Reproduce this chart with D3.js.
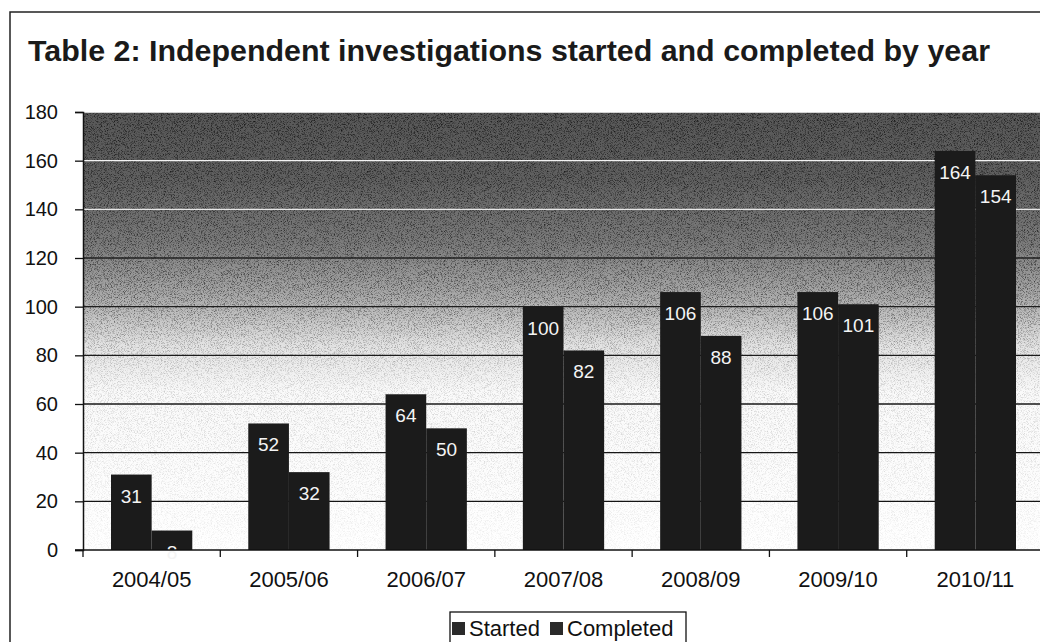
<!DOCTYPE html>
<html>
<head>
<meta charset="utf-8">
<script src="https://d3js.org/d3.v7.min.js"></script>
<style>
  body { margin: 0; background: #fff; }
  text { font-family: "Liberation Sans", Arial, sans-serif; }
</style>
</head>
<body>
<div id="chart"></div>
<script>
// data
var years = ["2004/05", "2005/06", "2006/07", "2007/08", "2008/09", "2009/10", "2010/11"]
var started = [31, 52, 64, 100, 106, 106, 164]
var completed = [8, 32, 50, 82, 88, 101, 154]
var yTicks = [0, 20, 40, 60, 80, 100, 120, 140, 160, 180]
var seriesNames = ["Started", "Completed"]

var width = 1040, height = 642
var plot = {left: 83, right: 1044, top: 112, bottom: 550}

var svg = d3.select("#chart").append("svg")
  .attr("width", width)
  .attr("height", height)

var defs = svg.append("defs")

// background of plot area: dark at top fading to white
var bg = defs.append("linearGradient")
  .attr("id", "bgGrad")
  .attr("gradientUnits", "userSpaceOnUse")
  .attr("x1", 0).attr("y1", plot.top).attr("x2", 0).attr("y2", plot.bottom)
bg.append("stop").attr("offset", "0%").attr("stop-color", "#585858")
bg.append("stop").attr("offset", "15%").attr("stop-color", "#606060")
bg.append("stop").attr("offset", "30%").attr("stop-color", "#7c7c7c")
bg.append("stop").attr("offset", "42%").attr("stop-color", "#aaaaaa")
bg.append("stop").attr("offset", "53%").attr("stop-color", "#e2e2e2")
bg.append("stop").attr("offset", "64%").attr("stop-color", "#fafafa")
bg.append("stop").attr("offset", "100%").attr("stop-color", "#ffffff")

// how strong the scan grain is: heavy on top, sparse at the bottom
var gr = defs.append("linearGradient")
  .attr("id", "grainGrad")
  .attr("gradientUnits", "userSpaceOnUse")
  .attr("x1", 0).attr("y1", plot.top).attr("x2", 0).attr("y2", plot.bottom)
gr.append("stop").attr("offset", "0%").attr("stop-color", "#000").attr("stop-opacity", 0.75)
gr.append("stop").attr("offset", "40%").attr("stop-color", "#000").attr("stop-opacity", 0.6)
gr.append("stop").attr("offset", "60%").attr("stop-color", "#000").attr("stop-opacity", 0.2)
gr.append("stop").attr("offset", "100%").attr("stop-color", "#000").attr("stop-opacity", 0.06)

// gridlines look white on the dark part, black on the light part
var gg = defs.append("linearGradient")
  .attr("id", "gridGrad")
  .attr("gradientUnits", "userSpaceOnUse")
  .attr("x1", 0).attr("y1", plot.top).attr("x2", 0).attr("y2", plot.bottom)
gg.append("stop").attr("offset", "0%").attr("stop-color", "#ffffff")
gg.append("stop").attr("offset", "28%").attr("stop-color", "#e0e0e0")
gg.append("stop").attr("offset", "33%").attr("stop-color", "#202020")
gg.append("stop").attr("offset", "100%").attr("stop-color", "#111111")

var f = defs.append("filter").attr("id", "grain").attr("x", 0).attr("y", 0).attr("width", "100%").attr("height", "100%")
f.append("feTurbulence").attr("type", "fractalNoise").attr("baseFrequency", 1.3).attr("numOctaves", 1).attr("seed", 3).attr("result", "n")
f.append("feColorMatrix").attr("in", "n").attr("type", "matrix")
  .attr("values", "0 0 0 0 0  0 0 0 0 0  0 0 0 0 0  0 0 0 -3 1.6")
  .attr("result", "a")
f.append("feComposite").attr("in", "a").attr("in2", "SourceGraphic").attr("operator", "in")

// outer frame
svg.append("rect")
  .attr("x", 10).attr("y", 12)
  .attr("width", 1040).attr("height", 700)
  .attr("fill", "none").attr("stroke", "#222").attr("stroke-width", 1.5)

svg.append("text")
  .attr("x", 28).attr("y", 61)
  .attr("font-size", 29)
  .attr("font-weight", "bold")
  .attr("fill", "#1a1a1a")
  .attr("textLength", 962)
  .attr("lengthAdjust", "spacingAndGlyphs")
  .text("Table 2: Independent investigations started and completed by year")

var x = d3.scaleBand()
  .domain(years)
  .range([plot.left, plot.right])
  .paddingInner(0)

var inner = d3.scaleBand()
  .domain(seriesNames)
  .range([28, x.bandwidth() - 28])

var y = d3.scaleLinear()
  .domain([0, 180])
  .range([plot.bottom, plot.top])

svg.append("rect")
  .attr("x", plot.left).attr("y", plot.top)
  .attr("width", plot.right - plot.left).attr("height", plot.bottom - plot.top)
  .attr("fill", "url(#bgGrad)")

svg.append("rect")
  .attr("x", plot.left).attr("y", plot.top)
  .attr("width", plot.right - plot.left).attr("height", plot.bottom - plot.top)
  .attr("fill", "url(#grainGrad)")
  .attr("filter", "url(#grain)")

svg.append("g")
  .selectAll("line")
  .data(yTicks.filter(function(d) { return d > 0 }))
  .join("line")
  .attr("x1", plot.left).attr("x2", plot.right)
  .attr("y1", function(d) { return y(d) }).attr("y2", function(d) { return y(d) })
  .attr("stroke", "url(#gridGrad)")
  .attr("stroke-width", 1.3)

// bars
var rows = years.map(function(yr, i) {
  return [{year: yr, key: "Started", value: started[i]}, {year: yr, key: "Completed", value: completed[i]}]
})

var groups = svg.append("g").selectAll("g")
  .data(rows)
  .join("g")
  .attr("transform", function(d) { return "translate(" + x(d[0].year) + ",0)" })

groups.selectAll("rect")
  .data(function(d) { return d })
  .join("rect")
  .attr("x", function(d) { return inner(d.key) })
  .attr("y", function(d) { return y(d.value) })
  .attr("width", inner.bandwidth())
  .attr("height", function(d) { return y(0) - y(d.value) })
  .attr("fill", "#1b1b1b")

groups.selectAll("text")
  .data(function(d) { return d })
  .join("text")
  .attr("x", function(d) { return inner(d.key) + inner.bandwidth() / 2 })
  .attr("y", function(d) { return y(d.value) + 28 })
  .attr("text-anchor", "middle")
  .attr("font-size", 19)
  .attr("fill", "#f4f4f4")
  .text(function(d) { return d.value })

// axes
var yAxis = svg.append("g")
  .attr("transform", "translate(" + plot.left + ",0)")
  .call(d3.axisLeft(y).tickValues(yTicks).tickSize(8).tickPadding(17))
yAxis.select(".domain").attr("stroke", "#111").attr("stroke-width", 1.5)
yAxis.selectAll(".tick line").attr("stroke", "#111").attr("stroke-width", 1.3)
yAxis.selectAll("text").attr("font-size", 20).attr("fill", "#111")
  .style("font-family", "'Liberation Sans', Arial, sans-serif")

var xAxis = svg.append("g")
  .attr("transform", "translate(0," + plot.bottom + ")")
  .call(d3.axisBottom(x).tickSize(0).tickPadding(21))
xAxis.select(".domain").remove()
xAxis.selectAll("text").attr("font-size", 22).attr("fill", "#111")
  .style("font-family", "'Liberation Sans', Arial, sans-serif")

svg.append("line")
  .attr("x1", plot.left - 8).attr("x2", plot.right)
  .attr("y1", plot.bottom).attr("y2", plot.bottom)
  .attr("stroke", "#111").attr("stroke-width", 1.5)

svg.append("g").selectAll("line")
  .data(years)
  .join("line")
  .attr("x1", function(d) { return x(d) }).attr("x2", function(d) { return x(d) })
  .attr("y1", plot.bottom).attr("y2", plot.bottom + 7)
  .attr("stroke", "#111").attr("stroke-width", 1.3)

// legend
svg.append("rect")
  .attr("x", 450).attr("y", 612)
  .attr("width", 236).attr("height", 40)
  .attr("fill", "#fff").attr("stroke", "#111").attr("stroke-width", 1.3)

var legX = [452, 550]
seriesNames.forEach(function(name, i) {
  svg.append("rect")
    .attr("x", legX[i]).attr("y", 622)
    .attr("width", 13).attr("height", 13)
    .attr("fill", "#2a2a2a")
  svg.append("text")
    .attr("x", legX[i] + 17).attr("y", 636)
    .attr("font-size", 22)
    .attr("fill", "#111")
    .text(name)
})
</script>
</body>
</html>
